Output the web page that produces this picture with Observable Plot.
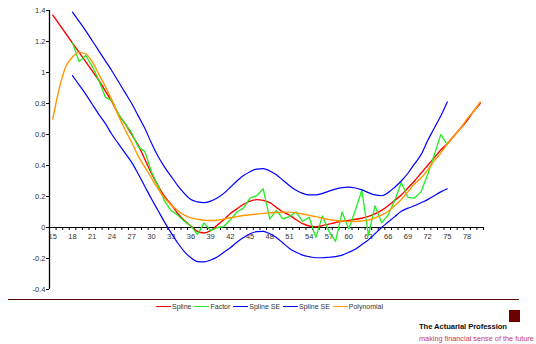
<!DOCTYPE html>
<html><head><meta charset="utf-8">
<script src="https://cdn.jsdelivr.net/npm/d3@7"></script>
<script src="https://cdn.jsdelivr.net/npm/@observablehq/plot@0.6"></script>
<style>
html,body{margin:0;padding:0;background:#fff;}
#wrap{position:relative;width:536px;height:344px;overflow:hidden;font-family:"Liberation Sans",Arial,sans-serif;}
#chart{position:absolute;left:0;top:0;}
#rule{position:absolute;left:8px;top:299px;width:511px;border-top:1.5px solid #5c0000;}
#legend{position:absolute;left:156px;top:303px;display:flex;align-items:center;font-size:7px;color:#333;white-space:nowrap;}
#legend .it{display:flex;align-items:center;margin-right:3px;}
#legend .sw{display:inline-block;width:15px;height:0;border-top:1.5px solid;margin-right:1px;}
#logo{position:absolute;left:509px;top:310px;width:11px;height:12px;background:#6b0000;}
#org{position:absolute;left:419px;top:322px;font-size:7.7px;font-weight:bold;color:#111;white-space:nowrap;letter-spacing:-0.1px;}
#tag{position:absolute;left:419px;top:334px;font-size:7.3px;color:#c23a62;white-space:nowrap;}
</style></head>
<body><div id="wrap"><div id="chart"></div><div id="rule"></div><div id="legend"></div><div id="logo"></div>
<div id="org">The Actuarial Profession</div><div id="tag">making financial sense of the future</div></div>
<script>
// Ages (categories)
const ages = [15,16,17,18,19,20,21,22,23,24,25,26,27,28,29,30,31,32,33,34,35,36,37,38,39,40,41,42,43,44,45,46,47,48,49,50,51,52,53,54,55,56,57,58,59,60,61,62,63,64,65,66,67,68,69,70,71,72,73,74,75,76,77,78,79,80];
const factorAges = [18,19,20,21,22,23,24,25,26,27,28,29,30,31,32,33,34,35,36,37,38,39,40,41,42,43,44,45,46,47,48,49,50,51,52,53,54,55,56,57,58,59,60,61,62,63,64,65,66,67,68,69,70,71,72,73,74,75];
const xTickLabels = [15,18,21,24,27,30,33,36,39,42,45,48,51,54,57,60,63,66,69,72,75,78];
const yTickValues = [-0.4,-0.2,0,0.2,0.4,0.6,0.8,1,1.2,1.4];

const spline = [1.37,1.31,1.25,1.19,1.13,1.07,1.01,0.95,0.88,0.81,
  0.73,0.67,0.60,0.53,0.44,0.35,0.27,0.20,0.15,0.09,
  0.045,0.01,-0.025,-0.035,-0.02,0.015,0.05,0.09,0.12,0.15,
  0.17,0.18,0.175,0.16,0.13,0.10,0.08,0.05,0.025,0.01,
  0.005,0.012,0.022,0.032,0.04,0.046,0.053,0.06,0.072,0.088,
  0.11,0.14,0.175,0.21,0.255,0.30,0.35,0.40,0.45,0.50,
  0.54,0.59,0.64,0.69,0.75,0.80];
const polynomial = [0.70,0.90,1.04,1.10,1.13,1.12,1.07,0.99,0.91,0.82,
  0.72,0.63,0.55,0.46,0.39,0.32,0.25,0.19,0.145,0.11,
  0.08,0.062,0.053,0.047,0.045,0.047,0.055,0.063,0.07,0.077,
  0.082,0.087,0.091,0.095,0.097,0.099,0.099,0.094,0.087,0.078,
  0.07,0.06,0.052,0.046,0.041,0.039,0.039,0.042,0.048,0.062,
  0.08,0.105,0.14,0.18,0.23,0.28,0.32,0.37,0.43,0.48,
  0.54,0.59,0.64,0.70,0.75,0.81];
const factor = [1.19,1.07,1.11,1.04,0.95,0.84,0.82,0.73,0.67,0.61,
  0.52,0.49,0.36,0.27,0.17,0.11,0.08,0.04,0.01,-0.045,
  0.03,-0.02,0.0,0.005,0.05,0.10,0.125,0.19,0.205,0.25,
  0.055,0.11,0.055,0.07,0.10,0.04,0.065,-0.065,0.075,-0.025,
  -0.09,0.10,-0.01,0.11,0.24,-0.05,0.14,0.03,0.08,0.175,
  0.29,0.195,0.19,0.23,0.34,0.465,0.60,0.535];
const splineSEUpper = [1.39,1.33,1.27,1.205,1.14,1.075,1.01,0.94,0.87,0.80,
  0.72,0.64,0.545,0.46,0.39,0.33,0.27,0.22,0.18,0.165,
  0.16,0.17,0.19,0.22,0.26,0.30,0.335,0.36,0.377,0.38,
  0.365,0.34,0.305,0.27,0.24,0.22,0.21,0.21,0.22,0.235,
  0.248,0.257,0.26,0.255,0.243,0.225,0.21,0.205,0.225,0.26,
  0.30,0.35,0.41,0.47,0.56,0.64,0.72,0.81];
const splineSELower = [0.98,0.92,0.86,0.795,0.73,0.67,0.60,0.54,0.48,0.42,
  0.345,0.265,0.185,0.11,0.035,-0.035,-0.10,-0.155,-0.195,-0.22,
  -0.222,-0.21,-0.19,-0.16,-0.13,-0.095,-0.065,-0.04,-0.027,-0.025,
  -0.04,-0.065,-0.10,-0.135,-0.16,-0.178,-0.188,-0.195,-0.195,-0.192,
  -0.188,-0.178,-0.16,-0.14,-0.11,-0.08,-0.04,0.0,0.035,0.07,
  0.105,0.125,0.14,0.16,0.18,0.205,0.23,0.25];

const seriesNames = ["Spline","Factor","Spline SE","Spline SE","Polynomial"];
const seriesColors = ["#ff0000","#22ee22","#0000ff","#0000ff","#ff9900"];

const xMin = 14.5, xMax = 80.5;
const xTickPositions = [xMin].concat(ages.map(a => a + 0.5));

const mk = (xs, ys) => xs.map((a, i) => ({age: a, v: ys[i]}));

const chart = Plot.plot({
  width: 536, height: 298,
  marginLeft: 49, marginRight: 53, marginTop: 10, marginBottom: 9,
  x: {domain: [xMin, xMax], axis: null},
  y: {domain: [-0.4, 1.4], axis: null},
  style: {fontFamily: "Liberation Sans, Arial, sans-serif", fontSize: "7.5px", color: "#333", background: "transparent", overflow: "visible"},
  marks: [
    Plot.axisY({ticks: yTickValues, tickSize: 3, tickPadding: 1, label: null, tickFormat: d => String(Math.round(d * 10) / 10), stroke: "#000"}),
    Plot.ruleX([xMin], {stroke: "#000", strokeWidth: 1.3}),
    Plot.ruleY([0], {stroke: "#000", strokeWidth: 1.2}),
    Plot.ruleX(xTickPositions, {x: d => d, y1: 0, y2: 0, insetBottom: -3, stroke: "#000"}),
    Plot.text(xTickLabels, {x: d => d, y: 0, dy: 9.5, text: d => String(d), fill: "#333"}),
    Plot.line(mk(ages, spline), {x: "age", y: "v", stroke: seriesColors[0], strokeWidth: 1.4, curve: "monotone-x"}),
    Plot.line(mk(factorAges, factor), {x: "age", y: "v", stroke: seriesColors[1], strokeWidth: 1.3, curve: "linear"}),
    Plot.line(mk(factorAges, splineSEUpper), {x: "age", y: "v", stroke: seriesColors[2], strokeWidth: 1.2, curve: "monotone-x"}),
    Plot.line(mk(factorAges, splineSELower), {x: "age", y: "v", stroke: seriesColors[3], strokeWidth: 1.2, curve: "monotone-x"}),
    Plot.line(mk(ages, polynomial), {x: "age", y: "v", stroke: seriesColors[4], strokeWidth: 1.4, curve: "monotone-x"})
  ]
});
document.getElementById("chart").appendChild(chart);

const lg = document.getElementById("legend");
seriesNames.forEach((n, i) => {
  const it = document.createElement("span");
  it.className = "it";
  const sw = document.createElement("span");
  sw.className = "sw";
  sw.style.borderTopColor = seriesColors[i];
  const t = document.createElement("span");
  t.textContent = n;
  it.appendChild(sw); it.appendChild(t);
  lg.appendChild(it);
});
</script></body></html>
